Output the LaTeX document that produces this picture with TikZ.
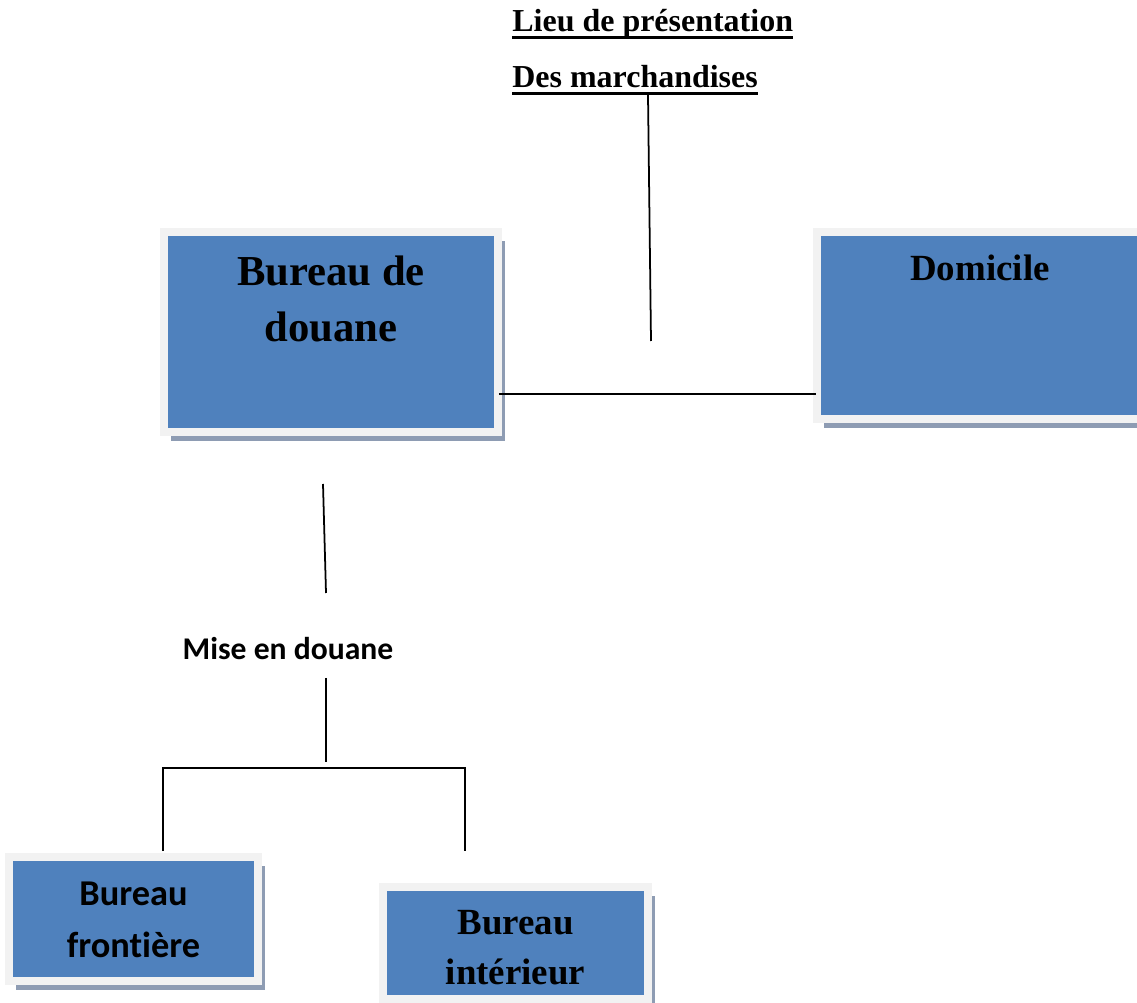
\documentclass[tikz,border=0pt]{standalone}
\usepackage{fontspec}
\setmainfont{Liberation Serif}
\newfontfamily\calibri[Ligatures=NoCommon]{Carlito}
\usepackage{tikz}
\usetikzlibrary{shadows}
\definecolor{boxblue}{HTML}{4F81BD}
\definecolor{framegray}{HTML}{F2F2F2}
\definecolor{shadowgray}{HTML}{8E9CB3}
\newsavebox{\soulbox}
\newcommand{\souligne}[1]{\sbox{\soulbox}{#1}\rlap{\vrule width\wd\soulbox height -2.5pt depth 4.2pt}\usebox{\soulbox}}
\tikzset{
  bloc/.style={fill=boxblue, draw=framegray, line width=0.16cm, inner sep=0pt,
    drop shadow={shadow xshift=0.14cm, shadow yshift=-0.18cm, fill=shadowgray, opacity=1}},
  titre/.style={anchor=base, align=center, inner sep=0pt},
  lien/.style={line width=1pt},
}

\begin{document}
\begin{tikzpicture}[x=0.02cm, y=-0.02cm]
    \useasboundingbox (0,0) rectangle (1137,1003);
    % boxes
    \node[bloc, minimum width=6.68cm, minimum height=4.0cm] (douane) at (331,332) {};
    \node[bloc, minimum width=6.52cm, minimum height=3.74cm] (domicile) at (980,325.5) {};
    \node[bloc, minimum width=4.98cm, minimum height=2.48cm] (frontiere) at (133.5,919) {};
    \node[bloc, minimum width=5.3cm, minimum height=2.24cm] (interieur) at (515.5,943) {};
    % texts (base = last line)
    \node[titre, font=\bfseries\fontsize{24.3}{32.3}\selectfont] (t_douane) at (331,342) {Bureau de\\douane};
    \node[titre, font=\bfseries\fontsize{21}{25}\selectfont] (t_domicile) at (980,281) {Domicile};
    \node[titre, font=\calibri\bfseries\fontsize{20.7}{29.5}\selectfont] (t_frontiere) at (133.5,957) {Bureau\\frontière};
    \node[titre, font=\bfseries\fontsize{21}{28.4}\selectfont] (t_interieur) at (515.5,984) {Bureau\\intérieur};
    \node[titre, anchor=base west, font=\bfseries\fontsize{18.2}{22}\selectfont] (lieu) at (512,32) {\souligne{Lieu de présentation}};
    \node[titre, anchor=base west, font=\bfseries\fontsize{18.2}{22}\selectfont] (marchandises) at (512,88) {\souligne{Des marchandises}};
    \node[titre, font=\calibri\bfseries\fontsize{18}{21}\selectfont] (mise) at (288,660) {Mise en douane};
    % lines
    \coordinate (l1) at (648,95);
    \coordinate (l2) at (651,341);
    \coordinate (m1) at (323,484);
    \coordinate (m2) at (326,593);
    \coordinate (m3) at (326,678);
    \coordinate (m4) at (326,762);
    \coordinate (f1) at (163,851);
    \coordinate (i1) at (465,851);
    \draw[lien] (l1) -- (l2);
    \draw[lien] ([xshift=-0.06cm]douane.east |- 0,394) -- ([xshift=0.06cm]domicile.west |- 0,394);
    \draw[lien] (m1) -- (m2);
    \draw[lien] (m3) -- (m4);
    \draw[lien] (f1) -- (163,768) -- (465,768) -- (i1);
\end{tikzpicture}
\end{document}
